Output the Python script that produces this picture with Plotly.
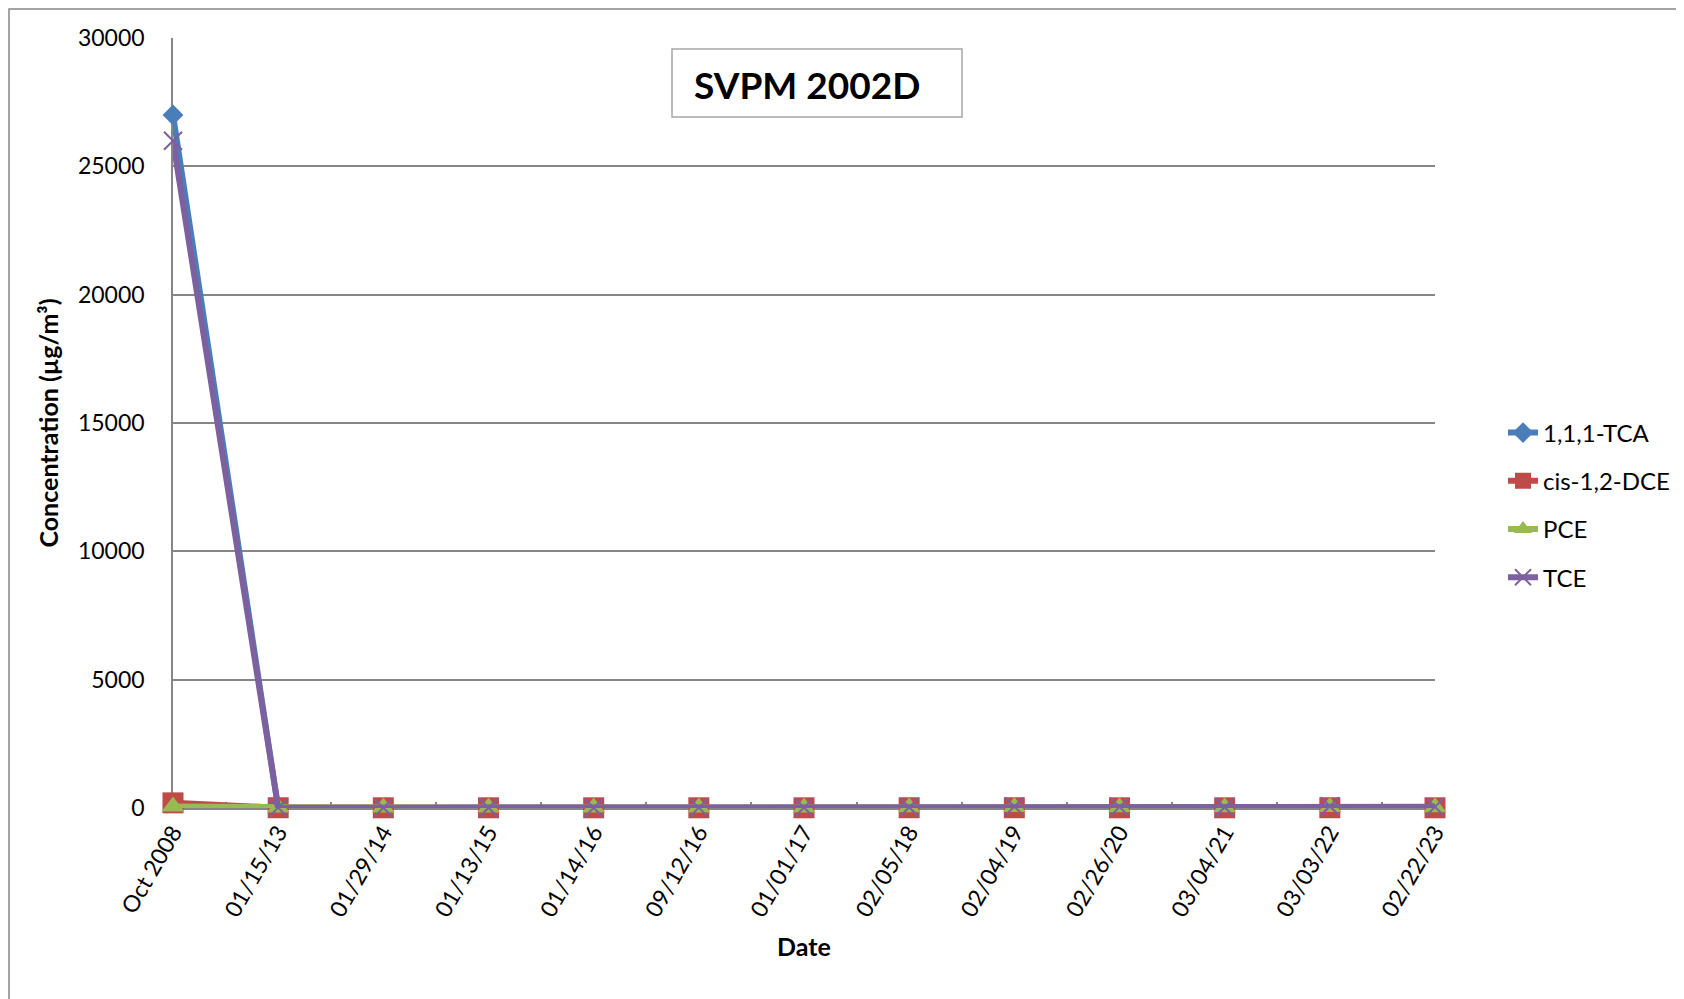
import plotly.graph_objects as go

dates = ["Oct 2008", "01/15/13", "01/29/14", "01/13/15", "01/14/16", "09/12/16", "01/01/17",
         "02/05/18", "02/04/19", "02/26/20", "03/04/21", "03/03/22", "02/22/23"]
tca = [27000, 5, 5, 5, 5, 5, 5, 5, 5, 5, 5, 5, 5]
dce = [200, 10, 8, 8, 8, 8, 8, 10, 10, 8, 8, 10, 8]
pce = [60, 20, 15, 15, 15, 15, 20, 25, 40, 30, 25, 40, 30]
tce = [26000, 15, 12, 12, 12, 15, 20, 30, 60, 45, 30, 70, 45]

FONT = "Lato"
# plot-area edges in reference (page) pixels
L, R, T, B = 173, 1435, 38, 808
OFF = 8  # page body margin
W, H = 1684 - OFF, 999 - OFF
pw, ph = R - L, B - T

def px(x):
    return (x - L) / pw

def py(y):
    return (B - y) / ph

fig = go.Figure()
series = [
    ("1,1,1-TCA", tca, "#4A7EBB", dict(symbol="diamond", size=16, color="#4A7EBB")),
    ("cis-1,2-DCE", dce, "#BE4B48", dict(symbol="square", size=21, color="#BE4B48")),
    ("PCE", pce, "#98B954", dict(symbol="triangle-up", size=20, color="#98B954")),
    ("TCE", tce, "#7D60A0", dict(symbol="x-thin", size=18, color="#7D60A0",
                                 line=dict(width=2, color="#7D60A0"))),
]
for i, (name, vals, col, mk) in enumerate(series):
    fig.add_trace(go.Scatter(x=dates, y=vals, name=name, mode="lines+markers",
                             line=dict(color=col, width=6), marker=mk,
                             cliponaxis=False, legendgroup=f"g{i}"))

fig.update_layout(
    width=W, height=H,
    margin=dict(l=L - OFF, r=W - (R - OFF), t=T - OFF, b=H - (B - OFF), autoexpand=False),
    paper_bgcolor="white", plot_bgcolor="white",
    font=dict(family=FONT, size=23, color="black"),
    showlegend=True,
    legend=dict(x=px(1503), y=py(505), xanchor="left", yanchor="middle",
                font=dict(size=24, family=FONT), tracegroupgap=14,
                bgcolor="rgba(0,0,0,0)"),
)
fig.update_xaxes(
    type="category", range=[0, len(dates) - 1], automargin=False,
    showgrid=False, showline=True, linecolor="#868686", linewidth=1.5,
    ticks="inside", ticklen=6, tickcolor="#868686", tickwidth=1.5,
    tickson="boundaries", tickangle=-60, layer="below traces",
    tickfont=dict(size=23, family=FONT),
    title=dict(text="<b>Date</b>", font=dict(size=25, family=FONT), standoff=18),
)
fig.update_yaxes(
    range=[0, 30000], dtick=5000, tickformat="d", automargin=False,
    showgrid=True, gridcolor="#868686", gridwidth=1.5,
    showline=True, linecolor="#868686", linewidth=1.5,
    zeroline=False, ticks="", layer="below traces",
    tickfont=dict(size=23, family=FONT), ticklabelstandoff=22,
    title=dict(text="<b>Concentration (µg/m³)</b>", font=dict(size=25, family=FONT), standoff=12),
)

# Title box
fig.add_shape(type="rect", xref="paper", yref="paper",
              x0=px(672), x1=px(962), y0=py(117), y1=py(49),
              line=dict(color="#A6A6A6", width=1.5), fillcolor="white", layer="above")
fig.add_annotation(xref="paper", yref="paper", x=px(692), y=py(84),
                   xanchor="left", yanchor="middle", showarrow=False,
                   text="<b>SVPM 2002D</b>", font=dict(size=37, family=FONT, color="black"))

# Outer chart-area border
fig.add_shape(type="rect", xref="paper", yref="paper",
              x0=px(OFF + 1), x1=px(1800), y0=py(1100), y1=py(OFF + 1),
              line=dict(color="#868686", width=1.5), fillcolor="rgba(0,0,0,0)", layer="above")

fig.write_html("out.html")
